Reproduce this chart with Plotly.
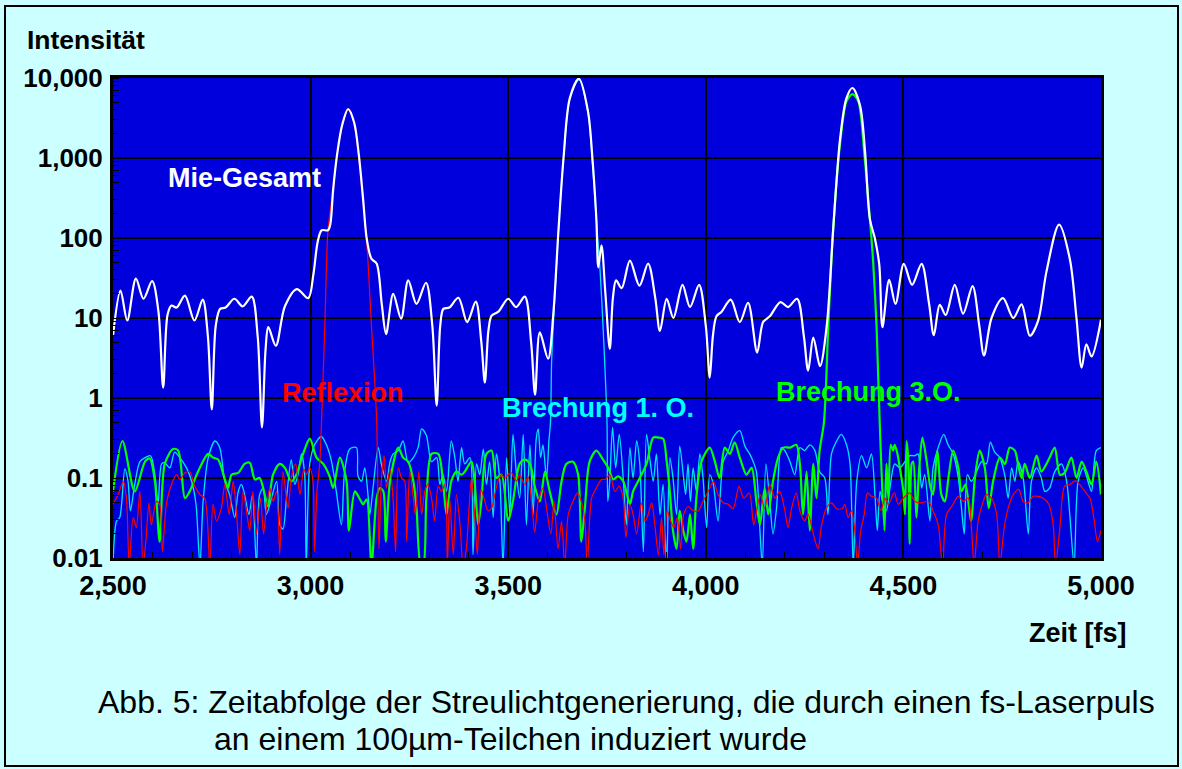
import plotly.graph_objects as go

# ---------------- data ----------------
mie_x = [2500,2519,2536,2558,2577,2599,2615,2627,2638,2648,2661,2682,2706,2727,2740,2750,2760,2771,2785,2807,
         2828,2851,2866,2877,2886,2893,2912,2935,2965,2994,3007,3018,3028,3044,3050,3057,3067,3080,3095,3110,
         3122,3133,3142,3154,3167,3180,3191,3209,3229,3247,3268,3292,3308,3319,3328,3336,3351,3374,3396,3418,
         3432,3441,3450,3458,3475,3500,3520,3542,3558,3568,3580,3601,3614,3627,3640,3656,3679,3702,3713,3723,
         3728,3736,3746,3757,3765,3773,3787,3808,3832,3854,3872,3884,3901,3918,3941,3960,3983,4000,4010,4018,
         4027,4040,4063,4086,4107,4130,4145,4162,4189,4208,4231,4248,4259,4272,4289,4306,4323,4340,4356,4371,
         4390,4403,4415,4428,4439,4447,4464,4480,4501,4522,4546,4565,4577,4592,4607,4630,4651,4675,4692,4704,
         4723,4752,4778,4799,4820,4841,4862,4894,4921,4938,4951,4963,4976,5000]
mie_y = [6.0,22,9.3,31,17.4,29,12,1.35,11,14.3,13.5,19,9.3,17,6,0.72,8,13,13.5,17.4,
         14,18.5,6,0.43,4,7.7,4.5,14,23,17.7,35,90,125,125,150,400,1100,2600,4100,2800,
         1100,300,98,55,48,15,6.3,20,9.8,29.5,15,27.6,8,0.8,8,13,13.5,17.9,8.9,16,
         5,1.56,7,10.7,12,17.4,13.7,18.5,5,1.1,6.6,3.1,11,120,1000,5600,9800,3800,1000,175,
         43,81,20,4.1,18,29.5,23.6,52,25.4,48,18,6.9,17.4,10,26,13.7,26,8,1.8,6,
         10.5,12,17,8.9,15.5,3.7,8.9,10.5,15.8,13.7,17.4,6,2.2,5.7,2.5,8,145,1770,5600,7500,
         4600,1200,175,98,46,7.7,30,15,47.5,26,47.5,15,6.1,14.6,10.9,26,11.3,25,8,3.4,
         10,17.7,10,14.8,6.0,9.3,38,147,55,9.9,2.4,4.7,3.3,9.5]

refl_x = [2500,2513,2526,2534,2541,2551,2559,2568,2576,2583,2591,2597,2610,2618,2625,2635,2648,2661,2669,2682,
          2694,2707,2720,2732,2745,2753,2762,2774,2783,2794,2804,2812,2821,2829,2839,2846,2854,2863,2873,2881,
          2888,2897,2905,2914,2922,2930,2943,2951,2962,2973,2983,2989,2998,3006,3010,3016,
          3023,3028,3036,3044,3057,3067,3080,3095,3110,3122,3133,3142,3154,3167,3173,
          3179,3186,3192,3201,3209,3215,3222,3230,3238,3243,3251,3260,3265,3274,3281,3289,3297,3306,3314,3323,
          3331,3340,3346,3352,3361,3369,3378,3386,3394,3407,3415,3422,3431,3441,3449,3458,3466,3474,3483,3491,
          3500,3508,3521,3529,3542,3550,3559,3567,3576,3588,3597,3608,3616,3626,3635,3643,3652,3664,3675,3685,
          3694,3700,3711,3723,3736,3745,3757,3770,3781,3791,3798,3808,3816,3825,3837,3846,3854,3863,3871,3880,
          3888,3894,3902,3911,3919,3928,3936,3944,3955,3968,3981,3993,4006,4019,4031,4044,4057,4069,4084,4096,
          4110,4121,4130,4138,4149,4162,4175,4187,4200,4208,4217,4229,4238,4250,4259,4272,4284,4293,4305,4318,
          4332,4346,4352,4360,4369,4377,4384,4392,4401,4409,4419,4432,4443,4453,4462,4477,4487,4500,4516,4529,
          4546,4563,4575,4588,4599,4609,4622,4639,4651,4664,4672,4679,4689,4698,4710,4723,4736,4744,4755,4765,
          4778,4792,4803,4816,4828,4841,4854,4868,4879,4885,4896,4908,4921,4935,4946,4959,4972,4983,4991,5000]
refl_y = [0.047,0.062,0.091,0.056,0.008,0.032,0.024,0.068,0.008,0.016,0.049,0.026,0.051,0.047,0.012,0.047,0.083,0.11,0.096,0.116,
          0.12,0.079,0.062,0.056,0.008,0.047,0.029,0.042,0.083,0.035,0.091,0.039,0.011,0.068,0.035,0.022,0.068,0.020,0.056,0.020,
          0.042,0.075,0.051,0.068,0.011,0.12,0.042,0.10,0.15,0.062,0.13,0.11,0.134,0.091,0.012,0.068,
          0.15,0.57,8,125,400,1100,2500,4000,2700,1000,280,90,8,0.55,0.013,
          0.091,0.19,0.075,0.13,0.051,0.012,0.134,0.10,0.091,0.016,0.12,0.056,0.035,0.12,0.035,0.068,0.083,0.056,0.029,0.079,
          0.068,0.083,0.008,0.056,0.011,0.062,0.026,0.008,0.013,0.10,0.035,0.011,0.072,0.051,0.039,0.042,0.062,0.091,0.11,0.10,
          0.11,0.116,0.091,0.11,0.083,0.105,0.051,0.021,0.051,0.075,0.042,0.020,0.051,0.013,0.029,0.008,0.035,0.051,0.065,0.051,
          0.029,0.008,0.056,0.075,0.096,0.096,0.11,0.068,0.079,0.056,0.018,0.047,0.035,0.020,0.049,0.029,0.035,0.049,0.026,0.011,
          0.032,0.011,0.039,0.029,0.024,0.032,0.013,0.035,0.044,0.039,0.039,0.051,0.068,0.091,0.062,0.049,0.047,0.041,0.079,0.056,
          0.065,0.026,0.042,0.062,0.042,0.083,0.056,0.068,0.039,0.024,0.042,0.065,0.039,0.029,0.035,0.020,0.013,0.026,0.042,0.049,
          0.041,0.042,0.047,0.032,0.039,0.022,0.008,0.022,0.035,0.065,0.059,0.056,0.039,0.056,0.047,0.065,0.047,0.056,0.065,0.051,
          0.049,0.051,0.039,0.026,0.008,0.035,0.044,0.059,0.051,0.056,0.024,0.008,0.029,0.044,0.062,0.056,0.035,0.008,0.024,0.042,
          0.062,0.072,0.051,0.049,0.059,0.059,0.056,0.047,0.026,0.008,0.024,0.079,0.083,0.092,0.083,0.068,0.056,0.029,0.016,0.022]

b1_x = [2500,2509,2517,2530,2538,2544,2555,2568,2581,2595,2606,2614,2623,2631,2644,2656,2669,2686,2699,2710,
        2720,2728,2741,2758,2770,2783,2795,2808,2817,2825,2833,2844,2853,2863,2871,2880,2888,2901,2914,2922,
        2930,2939,2951,2960,2968,2977,2985,2989,2998,3010,3027,3040,3053,3065,3078,3086,3099,3116,
        3120,3129,3137,3146,3150,3158,3171,3179,3192,3201,3209,3222,3234,3247,3260,3272,3281,3293,3306,3319,
        3327,3335,3344,3356,3365,3373,3382,3390,3403,3411,3420,3428,3437,3445,3453,3462,3470,3479,3487,3496,
        3504,3512,3521,3529,3538,3546,3555,3563,3571,3576,3582,3588,3597,3603,
        3607,3610,3616,3627,3640,3656,3679,3702,3713,3723,3732,3740,3750,3752,
        3757,3764,3772,3781,3791,3799,3808,3816,3825,3833,3842,3850,3858,3867,3875,3884,3892,3901,3909,3917,
        3926,3934,3943,3949,3955,3961,3968,3976,3985,3993,4002,4010,4019,4031,4044,4057,4069,4086,4099,4111,
        4120,4128,4137,4143,4152,4162,4170,4179,4191,4200,4213,4225,4238,4250,4263,4276,4288,4301,4309,4318,
        4331,4343,4356,4365,4373,4382,4394,4407,4419,4428,4434,4441,4449,4457,4466,4478,4491,4504,4516,4529,
        4537,4546,4554,4567,4575,4588,4602,4613,4626,4639,4647,4654,4662,4672,4685,4698,4710,4720,4731,4744,
        4757,4765,4774,4782,4790,4803,4816,4824,4837,4849,4858,4870,4883,4900,4913,4921,4932,4942,4955,4967,
        4976,4988,5000]
b1_y = [0.008,0.029,0.032,0.13,0.091,0.039,0.083,0.16,0.18,0.19,0.11,0.047,0.15,0.155,0.134,0.21,0.18,0.134,0.091,0.047,
        0.008,0.051,0.18,0.29,0.24,0.091,0.062,0.032,0.068,0.083,0.062,0.035,0.062,0.008,0.062,0.075,0.035,0.056,0.091,0.026,
        0.023,0.056,0.17,0.083,0.11,0.20,0.11,0.008,0.15,0.26,0.33,0.26,0.16,0.068,0.026,0.12,0.23,0.24,
        0.105,0.091,0.134,0.056,0.035,0.075,0.24,0.15,0.091,0.16,0.20,0.22,0.29,0.155,0.18,0.24,0.41,0.34,0.16,0.18,
        0.083,0.11,0.068,0.29,0.18,0.091,0.24,0.15,0.18,0.011,0.15,0.11,0.23,0.083,0.16,0.032,0.20,0.091,0.008,0.18,
        0.035,0.35,0.11,0.056,0.35,0.026,0.26,0.035,0.31,0.41,0.18,0.26,0.10,0.29,
        0.5,3,12,120,1000,5600,9500,3700,900,170,43,7.8,0.5,0.051,
        0.091,0.43,0.134,0.35,0.10,0.026,0.24,0.10,0.29,0.15,0.012,0.35,0.18,0.091,0.20,0.035,0.083,0.008,0.18,0.10,
        0.035,0.25,0.11,0.062,0.15,0.051,0.134,0.068,0.20,0.10,0.024,0.11,0.083,0.029,0.16,0.22,0.32,0.39,0.25,0.20,
        0.16,0.12,0.022,0.008,0.15,0.051,0.020,0.042,0.24,0.22,0.16,0.11,0.24,0.22,0.26,0.22,0.12,0.10,0.035,0.20,
        0.29,0.35,0.26,0.15,0.008,0.091,0.19,0.134,0.20,0.062,0.022,0.068,0.047,0.039,0.075,0.15,0.134,0.16,0.19,0.19,
        0.20,0.075,0.11,0.029,0.134,0.24,0.35,0.26,0.20,0.10,0.042,0.020,0.11,0.091,0.12,0.16,0.15,0.28,0.21,0.18,
        0.105,0.056,0.134,0.091,0.16,0.10,0.020,0.091,0.134,0.10,0.068,0.075,0.12,0.15,0.091,0.035,0.008,0.091,0.134,0.091,
        0.068,0.22,0.24]

b3_x = [2500,2524,2555,2581,2593,2606,2618,2631,2652,2665,2682,2694,2715,2741,2753,2766,2783,2791,2800,2817,
        2833,2846,2859,2871,2884,2892,2905,2922,2935,2951,2964,2981,2998,3015,3032,3048,3057,3074,3091,3097,
        3112,3125,3133,3142,3154,3167,3175,3184,3190,3201,3222,3234,3247,3260,3268,3279,3285,3293,3306,3323,
        3335,3344,3356,3369,3382,3390,3407,3415,3424,3432,3445,3458,3470,3483,3500,3512,3529,3542,3555,3567,
        3580,3593,3605,3622,3635,3647,3664,3677,3685,3694,3706,3723,3740,3753,3766,3778,3791,3808,3816,3833,
        3850,3867,3880,3892,3901,3909,3917,3926,3934,3943,3951,3960,3968,3976,3989,4010,4023,4035,4048,4061,
        4073,4086,4103,4116,4128,4137,4149,4158,4170,4183,4196,4213,4229,4238,4246,4255,4263,4272,4280,4288,
        4299,4310,4322,4339,4356,4371,4386,4402,4415,4423,4432,4440,4452,
        4457,4462,4468,4474,4478,4485,4491,4500,4504,4508,4512,4516,4521,4525,4533,4539,4548,4559,4567,4575,
        4586,4596,4605,4615,4626,4639,4647,4657,4671,4681,4693,4706,4716,4727,4744,4757,4769,4782,4790,4799,
        4807,4820,4837,4849,4862,4870,4883,4896,4908,4925,4938,4951,4963,4976,4988,5000]
b3_y = [0.068,0.29,0.068,0.16,0.175,0.091,0.016,0.15,0.23,0.22,0.056,0.068,0.12,0.20,0.18,0.17,0.096,0.075,0.11,0.116,
        0.15,0.155,0.096,0.10,0.062,0.044,0.11,0.15,0.134,0.091,0.11,0.20,0.31,0.18,0.15,0.105,0.075,0.18,0.091,0.022,
        0.068,0.054,0.047,0.054,0.008,0.056,0.075,0.068,0.016,0.091,0.24,0.18,0.16,0.091,0.042,0.008,0.008,0.056,0.20,0.20,
        0.091,0.035,0.091,0.12,0.11,0.12,0.16,0.091,0.026,0.051,0.20,0.22,0.10,0.11,0.029,0.051,0.15,0.17,0.15,0.079,
        0.051,0.12,0.068,0.035,0.091,0.15,0.16,0.11,0.016,0.042,0.16,0.22,0.17,0.134,0.096,0.105,0.091,0.047,0.068,0.10,
        0.15,0.32,0.32,0.31,0.16,0.068,0.022,0.013,0.039,0.022,0.016,0.035,0.013,0.056,0.16,0.24,0.16,0.10,0.24,0.20,
        0.28,0.18,0.11,0.134,0.051,0.026,0.075,0.035,0.091,0.18,0.24,0.24,0.26,0.15,0.035,0.12,0.022,0.15,0.056,0.22,
        0.5,8,120,1400,5100,6300,5100,1000,180,55,8,0.5,0.022,
        0.15,0.056,0.26,0.22,0.26,0.20,0.134,0.068,0.035,0.29,0.18,0.015,0.15,0.16,0.032,0.11,0.32,0.16,0.083,0.062,
        0.22,0.062,0.051,0.11,0.22,0.134,0.068,0.083,0.029,0.10,0.22,0.134,0.042,0.091,0.18,0.15,0.24,0.22,0.15,0.10,
        0.15,0.10,0.19,0.12,0.15,0.18,0.24,0.11,0.116,0.18,0.10,0.16,0.12,0.083,0.16,0.062]

x_tick_vals = [2500, 3000, 3500, 4000, 4500, 5000]
x_tick_text = ["2,500", "3,000", "3,500", "4,000", "4,500", "5,000"]
y_tick_vals = [0.01, 0.1, 1, 10, 100, 1000, 10000]
y_tick_text = ["0.01", "0.1", "1", "10", "100", "1,000", "10,000"]

# ---------------- figure ----------------
FONT = "Arial, Liberation Sans, sans-serif"
W, H = 1182, 769
L, R, T, B = 113, 81, 78, 211
PW, PH = W - L - R, H - T - B


def px_x(px):
    return (px - L) / PW


def px_y(py):
    return (H - B - py) / PH


fig = go.Figure()
fig.add_trace(go.Scatter(x=b1_x, y=b1_y, mode="lines", line=dict(color="#00E5FF", width=1.3, shape="spline", smoothing=0.8)))
fig.add_trace(go.Scatter(x=b3_x, y=b3_y, mode="lines", line=dict(color="#00FF00", width=2.2, shape="spline", smoothing=0.8)))
fig.add_trace(go.Scatter(x=refl_x, y=refl_y, mode="lines", line=dict(color="#FF0000", width=1.2, shape="spline", smoothing=0.8)))
fig.add_trace(go.Scatter(x=mie_x, y=mie_y, mode="lines", line=dict(color="#FFFFFF", width=2.2, shape="spline", smoothing=0.9)))

fig.update_layout(
    width=W, height=H, showlegend=False,
    margin=dict(l=L, r=R, t=T, b=B, pad=0),
    paper_bgcolor="#CCFFFF", plot_bgcolor="#0000DD",
    font=dict(family=FONT, color="black"),
    xaxis=dict(range=[2500, 5000], tickvals=x_tick_vals, ticktext=["<b>%s</b>" % t for t in x_tick_text],
               tickfont=dict(size=27, family=FONT, color="black"), ticks="inside", ticklen=6, tickcolor="black",
               showgrid=True, gridcolor="black", gridwidth=1.5, zeroline=False,
               showline=True, linecolor="black", linewidth=3, mirror=True, ticklabelstandoff=2,
               minor=dict(dtick=100, ticks="inside", ticklen=6, tickcolor="black", showgrid=False)),
    yaxis=dict(type="log", range=[-2, 4], tickvals=y_tick_vals, ticktext=["<b>%s</b>" % t for t in y_tick_text],
               tickfont=dict(size=26, family=FONT, color="black"), ticks="", showgrid=True, gridcolor="black",
               gridwidth=2, zeroline=False, showline=True, linecolor="black", linewidth=3, mirror=True,
               ticklabelstandoff=2,
               minor=dict(dtick="D1", ticks="inside", ticklen=6, tickcolor="black", showgrid=False)),
)

ann = [
    dict(text="<b>Intensität</b>", x=px_x(25), y=px_y(40), xanchor="left", yanchor="middle", size=26.5, color="black"),
    dict(text="<b>Zeit [fs]</b>", x=px_x(1129), y=px_y(633), xanchor="right", yanchor="middle", size=27, color="black"),
    dict(text="Abb. 5: Zeitabfolge der Streulichtgenerierung, die durch einen fs-Laserpuls", x=px_x(96), y=px_y(702),
         xanchor="left", yanchor="middle", size=32, color="black"),
    dict(text="an einem 100µm-Teilchen induziert wurde", x=px_x(212), y=px_y(739),
         xanchor="left", yanchor="middle", size=32, color="black"),
    dict(text="<b>Mie-Gesamt</b>", x=px_x(244), y=px_y(178), xanchor="center", yanchor="middle", size=27, color="#FFFFFF"),
    dict(text="<b>Reflexion</b>", x=px_x(343), y=px_y(393), xanchor="center", yanchor="middle", size=27, color="#FF0000"),
    dict(text="<b>Brechung 1. O.</b>", x=px_x(598), y=px_y(408), xanchor="center", yanchor="middle", size=27, color="#00FFFF"),
    dict(text="<b>Brechung 3.O.</b>", x=px_x(868), y=px_y(392), xanchor="center", yanchor="middle", size=27, color="#00FF00"),
]
for a in ann:
    fig.add_annotation(text=a["text"], x=a["x"], y=a["y"], xref="paper", yref="paper",
                       xanchor=a["xanchor"], yanchor=a["yanchor"], showarrow=False,
                       font=dict(family=FONT, size=a["size"], color=a["color"]))

# outer frame of the picture
fig.add_shape(type="rect", xref="paper", yref="paper",
              x0=px_x(5), x1=px_x(1178), y0=px_y(6), y1=px_y(766),
              line=dict(color="black", width=2), fillcolor="rgba(0,0,0,0)", layer="below")

fig.write_html("out.html")
